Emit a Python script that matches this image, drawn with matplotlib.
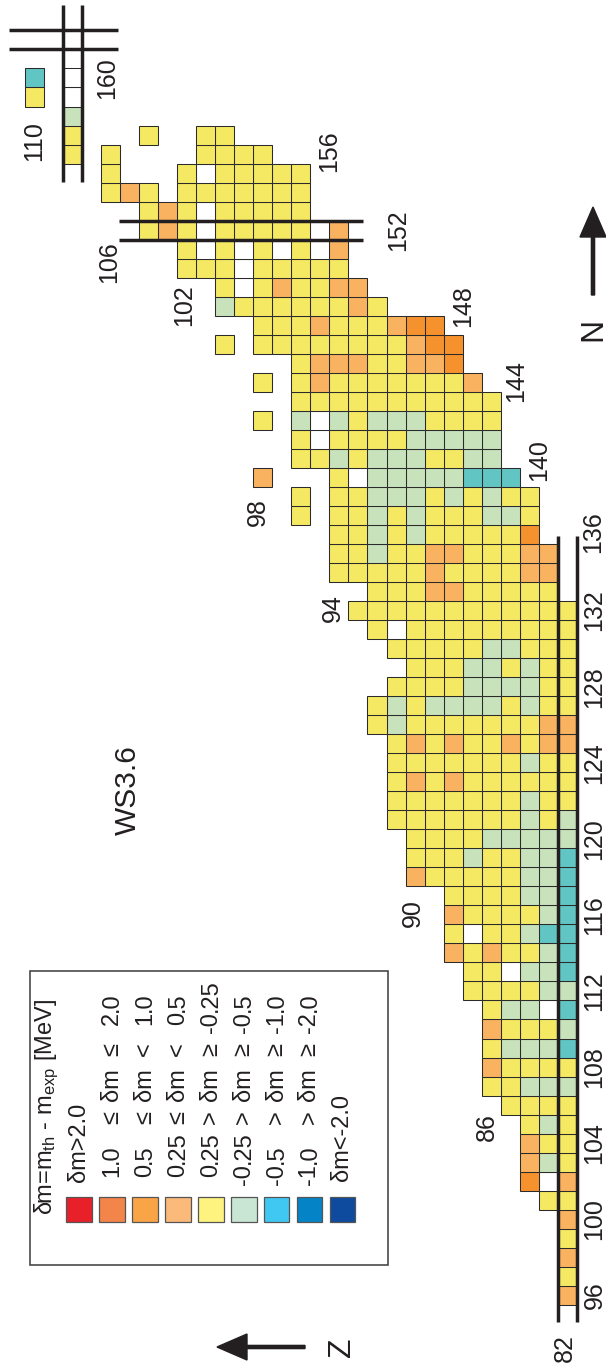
import matplotlib
matplotlib.use('Agg')
import matplotlib.pyplot as plt
from matplotlib.patches import Rectangle, FancyArrow

plt.rcParams['font.family'] = ['Liberation Sans', 'DejaVu Sans']
plt.rcParams['mathtext.fontset'] = 'custom'
plt.rcParams['mathtext.rm'] = 'Liberation Sans'
plt.rcParams['mathtext.it'] = 'Liberation Sans:italic'

# ---------------- data ----------------
# class codes: O 0.5<=dm<1.0, L 0.25<=dm<0.5, Y 0.25>dm>=-0.25,
#              G -0.25>dm>=-0.5, T -0.5>dm>=-1.0, W no value, '.' no nucleus
Z_FIRST = 82          # character i of a row string -> Z = 82 + i
N_FIRST = 96          # row j -> N = 96 + j
ROWS = [
    "L", "Y", "L", "Y", "L", "YY", "LWO", "YGL", "YYL", "YGY",          # 96-105
    "YYYY", "GGGYY", "YYYYL", "TGGGY", "GYYYL",                         # 106-110
    "TWGGY", "GGYYYY", "TGGWYY", "TGYYLYL", "TTGYYWY",                  # 111-115
    "TGYYYYL", "TGGYYYY", "TGGYYYYYL", "TGGYYGYYY", "GGGGGYYYY",        # 116-120
    "GYGYYYYYYY", "YYGYYYYYYY", "YYYYYYLYLY", "YYGYYYYYYY", "LLYLYYLYLY",  # 121-125
    "LLYYYYYYYGY", "YYGYGGGGYGY", "YYGGGGYYYY", "YYGYGGYYY", "YYYGGYYYYY",  # 126-130
    "YYYYYYYYYWY", "YYYYYYYYYYYY", ".YYYYYLLYYY", ".LLYYYYLYYYYY", ".LLYYYLLYYGYY",  # 131-135
    "..OYYYYYGYGYY", "..YGGYYYGYGYY.Y", "..YYGYGYGGGYY.Y",               # 136-138
    "...TTTGGGGGWY...L", "....GGYYGGGYGYY",                             # 139-140
    "....GGGGGYYYYWY", "....YYYYGGGYGWG.Y", "....YYYYYYYYYYY",          # 141-143
    ".....LYYYYYYYLY.Y", "......OLLYYLLLY",                             # 144-145
    "......OOLYYYYYYYY.Y", ".......OOLYYYLYYY",                         # 146-147
    "..........YLYYYYYYG", "...........LLYYLYWY",                       # 148-149
    "............YYYYYWYYY", "............LWYWYWYWY",                   # 150-151
    "............LWYYYYYWYLY", "..............YYYYYWYLY",               # 152-153
    "..............YYYYYYY.YLY", "..............YYYYYWY...Y",           # 154-155
    "................YYYY....Y.Y", "..................YY..Y...Y",       # 156-157
    "..........................G", "..........................W.Y",    # 158-159
    "..........................W.T",                                    # 160
]

N_TICKS = [96, 100, 104, 108, 112, 116, 120, 124, 128, 132, 136, 140, 144, 148, 152, 156, 160]
Z_TICKS = [82, 86, 90, 94, 98, 102, 106, 110]

LEGEND_LABELS = [
    ("1.0", "\u2264", "\u2264", "2.0"),
    ("0.5", "\u2264", "<", "1.0"),
    ("0.25", "\u2264", "<", "0.5"),
    ("0.25", ">", "\u2265", "-0.25"),
    ("-0.25", ">", "\u2265", "-0.5"),
    ("-0.5", ">", "\u2265", "-1.0"),
    ("-1.0", ">", "\u2265", "-2.0"),
]

# ---------------- style ----------------
CELL_COLORS = {'Y': '#F5E862', 'G': '#C8E2BC', 'T': '#61C6C3',
               'L': '#F9B25F', 'O': '#F6922D', 'W': '#FFFFFF'}
LEGEND_COLORS = ['#E8202A', '#F4854A', '#F9A547', '#FBB97A', '#FFF37F',
                 '#C8E6D3', '#41C8F2', '#0484C6', '#0E4B9F']
INK = '#231f20'

# label placement (Z, N) in chart coordinates
XR = 80.58
N_LABEL_POS = {96: (XR, 96.0), 100: (XR, 100.0), 104: (XR, 104.0),
               108: (XR, 108.0), 112: (XR, 112.0), 116: (XR, 116.0),
               120: (XR, 120.0), 124: (XR, 124.0), 128: (XR, 128.0),
               132: (XR, 132.0), 136: (80.64, 136.1), 140: (83.5, 139.9),
               144: (84.7, 144.05), 148: (87.5, 148.0), 152: (90.9, 152.0),
               156: (94.5, 156.15), 160: (106.17, 160.0)}
Z_LABEL_POS = {82: (82.13, 93.23), 86: (86.23, 104.85), 90: (90.11, 116.1),
               94: (94.31, 132.14), 98: (98.25, 137.2), 102: (102.13, 148.07),
               106: (106.07, 150.33), 110: (110.0, 156.7)}

fig = plt.figure(figsize=(6.06, 13.67), dpi=100)
ax = fig.add_axes([0, 0, 1, 1])
ax.set_xlim(111.79, 79.98)   # Z increases to the left
ax.set_ylim(92.23, 164.10)   # N increases upward
ax.axis('off')

for j, row in enumerate(ROWS):
    n = N_FIRST + j
    for i, c in enumerate(row):
        if c == '.':
            continue
        z = Z_FIRST + i
        ax.add_patch(Rectangle((z - 0.5, n - 0.5), 1, 1, facecolor=CELL_COLORS[c],
                               edgecolor='#2b2b2b', linewidth=0.75, zorder=2))

# magic-number double lines
LW_MAGIC = 2.5
for zx in (81.5, 82.5):
    ax.plot([zx, zx], [94.6, 135.92], color=INK, lw=LW_MAGIC, zorder=5, solid_capstyle='butt')
for zx in (107.5, 108.5):
    ax.plot([zx, zx], [154.53, 163.84], color=INK, lw=LW_MAGIC, zorder=5, solid_capstyle='butt')
for ny in (151.5, 152.5):
    ax.plot([105.54, 92.73], [ny, ny], color=INK, lw=LW_MAGIC, zorder=5, solid_capstyle='butt')
for ny in (161.5, 162.5):
    ax.plot([111.32, 105.6], [ny, ny], color=INK, lw=LW_MAGIC, zorder=5, solid_capstyle='butt')

FS_TICK = 18
for n in N_TICKS:
    x, y = N_LABEL_POS[n]
    ax.text(x, y, str(n), rotation=90, ha='center', va='center', fontsize=FS_TICK, color=INK)
for z in Z_TICKS:
    x, y = Z_LABEL_POS[z]
    ax.text(x, y, str(z), rotation=90, ha='center', va='center', fontsize=FS_TICK, color=INK)

# ---------------- overlay in pixel units: title, legend, arrows ----------------
ov = fig.add_axes([0, 0, 1, 1])
ov.set_xlim(0, 606)
ov.set_ylim(1367, 0)
ov.axis('off')

ov.text(127.5, 790, "WS3.6", rotation=90, ha='center', va='center', fontsize=21.5, color=INK)

# legend box
ov.add_patch(Rectangle((30, 971), 388 - 30, 1265 - 971, facecolor='none',
                       edgecolor='#3a3a3a', linewidth=1.1))
FS_LEG = 17
pitch = 32.9
x_first = 79.2
sq_w, sq_h, sq_top = 25.6, 25.0, 1197
for k, col in enumerate(LEGEND_COLORS):
    xc = x_first + k * pitch
    ov.add_patch(Rectangle((xc - sq_w / 2, sq_top), sq_w, sq_h, facecolor=col,
                           edgecolor='#555555', linewidth=0.9))

hdr_x = x_first - pitch
ov.text(hdr_x, 1215, "\u03b4m=m$_{\\rm th}$ - m$_{\\rm exp}$ [MeV]", rotation=90,
        rotation_mode='anchor', ha='left', va='center', fontsize=FS_LEG, color=INK)
ov.text(x_first, 1182, "\u03b4m>2.0", rotation=90, rotation_mode='anchor',
        ha='left', va='center', fontsize=FS_LEG, color=INK)


def dec_text(x, ydot, s):
    ip, fp = s.split('.')
    ov.text(x, ydot, ip, rotation=90, rotation_mode='anchor', ha='right', va='center',
            fontsize=FS_LEG, color=INK)
    ov.text(x, ydot, '.' + fp, rotation=90, rotation_mode='anchor', ha='left', va='center',
            fontsize=FS_LEG, color=INK)


for k, (a, r1, r2, b) in enumerate(LEGEND_LABELS):
    xc = x_first + (k + 1) * pitch
    dec_text(xc, 1164, a)
    ov.text(xc, 1117, r1, rotation=90, rotation_mode='anchor', ha='center', va='center',
            fontsize=FS_LEG, color=INK)
    ov.text(xc, 1085, "\u03b4m", rotation=90, rotation_mode='anchor', ha='center', va='center',
            fontsize=FS_LEG, color=INK)
    ov.text(xc, 1049, r2, rotation=90, rotation_mode='anchor', ha='center', va='center',
            fontsize=FS_LEG, color=INK)
    dec_text(xc, 1012, b)

ov.text(x_first + 8 * pitch, 1181, "\u03b4m<-2.0", rotation=90, rotation_mode='anchor',
        ha='left', va='center', fontsize=FS_LEG, color=INK)

# axis arrows
ov.add_patch(FancyArrow(593, 295, 0, -88, width=3.2, head_width=26, head_length=30,
                        length_includes_head=True, color=INK))
ov.text(593, 329, "N", rotation=90, ha='center', va='center', fontsize=23, color=INK)
ov.add_patch(FancyArrow(305, 1347, -88, 0, width=3.2, head_width=26, head_length=30,
                        length_includes_head=True, color=INK))
ov.text(342, 1347, "Z", rotation=90, ha='center', va='center', fontsize=23, color=INK)

fig.savefig('out.png', dpi=100)
